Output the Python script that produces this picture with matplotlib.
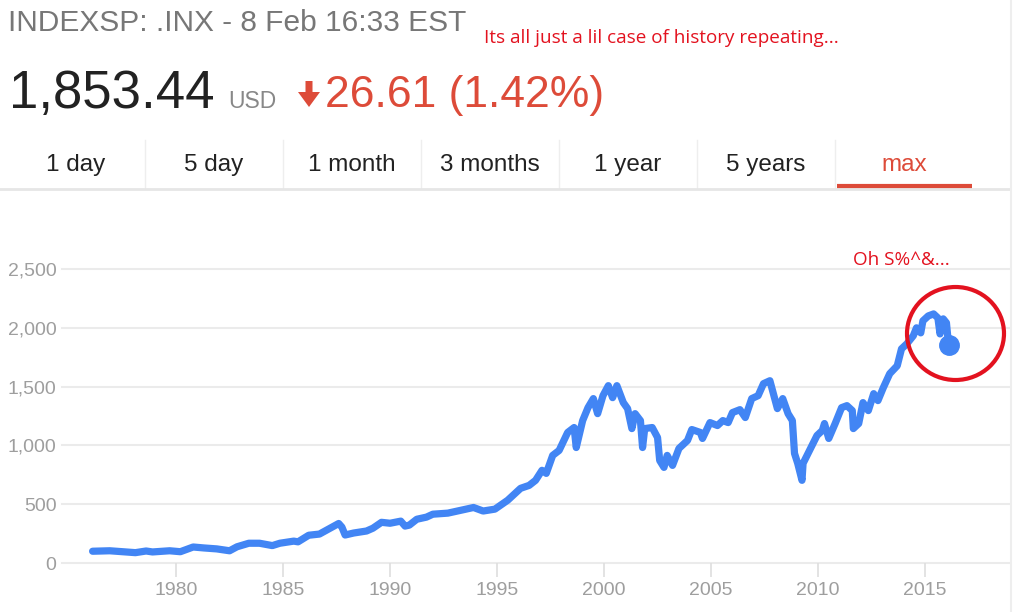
import matplotlib
matplotlib.use("Agg")
import matplotlib.pyplot as plt
from matplotlib.patches import Ellipse, Polygon

# S&P 500 index
years = [1976.1, 1976.9, 1978.1, 1978.6, 1978.9, 1979.7, 1980.2, 1980.8, 1981.3, 1981.9,
         1982.5, 1982.85, 1983.4, 1983.9, 1984.5, 1984.85, 1985.5, 1985.7, 1986.2, 1986.7,
         1987.2, 1987.6, 1987.75, 1987.9, 1988.3, 1988.9, 1989.2, 1989.6, 1990.0, 1990.5,
         1990.7, 1990.9, 1991.25, 1991.7, 1992.0, 1992.7, 1993.1, 1993.9, 1994.35, 1994.9,
         1995.5, 1996.1, 1996.5, 1996.8, 1997.1, 1997.3, 1997.6, 1997.9, 1998.3, 1998.6,
         1998.7, 1999.0, 1999.25, 1999.5, 1999.7, 1999.95, 2000.2, 2000.4, 2000.6, 2000.9,
         2001.1, 2001.3, 2001.45, 2001.7, 2001.8, 2001.9, 2002.25, 2002.5, 2002.6, 2002.8,
         2002.95, 2003.2, 2003.5, 2003.9, 2004.1, 2004.5, 2004.6, 2004.95, 2005.3, 2005.55,
         2005.8, 2006.0, 2006.35, 2006.6, 2006.9, 2007.2, 2007.45, 2007.75, 2007.9, 2008.1,
         2008.35, 2008.6, 2008.8, 2008.9, 2009.05, 2009.25, 2009.3, 2009.6, 2009.95, 2010.2,
         2010.3, 2010.5, 2010.8, 2011.1, 2011.35, 2011.6, 2011.65, 2011.9, 2012.1, 2012.35,
         2012.6, 2012.8, 2013.05, 2013.35, 2013.7, 2013.9, 2014.15, 2014.45, 2014.6, 2014.8,
         2014.9, 2015.15, 2015.4, 2015.6, 2015.7, 2015.85, 2016.0, 2016.1]
values = [100, 104, 88, 102, 94, 104, 96, 136, 128, 120,
          104, 138, 168, 168, 148, 168, 186, 180, 236, 246,
          296, 336, 305, 238, 255, 272, 296, 346, 338, 356,
          314, 322, 372, 390, 415, 424, 440, 472, 442, 458,
          534, 635, 660, 703, 788, 762, 915, 957, 1110, 1152,
          982, 1211, 1321, 1398, 1270, 1423, 1508, 1406, 1508, 1364,
          1313, 1143, 1270, 1211, 982, 1143, 1152, 1067, 872, 813,
          915, 830, 974, 1042, 1135, 1110, 1059, 1194, 1169, 1211,
          1194, 1279, 1304, 1237, 1398, 1423, 1525, 1550, 1448, 1313,
          1398, 1270, 1211, 932, 847, 703, 847, 957, 1084, 1127,
          1186, 1059, 1186, 1321, 1338, 1296, 1143, 1186, 1364, 1296,
          1440, 1381, 1491, 1610, 1677, 1821, 1864, 1932, 2000, 1957,
          2059, 2101, 2118, 2084, 1948, 2076, 2042, 1853]

y_ticks = [0, 500, 1000, 1500, 2000, 2500]
x_ticks = [1980, 1985, 1990, 1995, 2000, 2005, 2010, 2015]
tabs = ["1 day", "5 day", "1 month", "3 months", "1 year", "5 years", "max"]

BLUE = "#4285f4"
GRED = "#dd4b39"
NOTE_RED = "#e3121f"
UI_FONT = "Liberation Sans"

W, H = 1029, 612
fig = plt.figure(figsize=(W / 100, H / 100), dpi=100)
fig.patch.set_facecolor("white")

# chart area
ax = fig.add_axes([62 / W, (H - 563) / H, (1010 - 62) / W, (563 - 269) / H])
ax.set_xlim(1974.67, 2018.97)
ax.set_ylim(0, 2500)
for s in ax.spines.values():
    s.set_visible(False)
for v in y_ticks:
    ax.axhline(v, color="#ebebeb", lw=1.5, zorder=0, clip_on=False)
ax.plot(years, values, color=BLUE, lw=5.2, solid_joinstyle="round",
        solid_capstyle="round", zorder=3)
ax.plot(years[-1], values[-1], "o", color=BLUE, ms=14, zorder=4)

ax.set_yticks(y_ticks)
ax.set_yticklabels([f"{v:,}" for v in y_ticks])
ax.set_xticks(x_ticks)
ax.set_xticklabels([str(x) for x in x_ticks])
ax.tick_params(axis="y", length=0, pad=4, labelsize=14, labelcolor="#9e9e9e")
ax.tick_params(axis="x", length=10, width=1.2, color="#dedede", pad=4,
               labelsize=14, labelcolor="#9e9e9e")
for lab in ax.get_xticklabels() + ax.get_yticklabels():
    lab.set_fontfamily(UI_FONT)

# page overlay in pixel coordinates
ov = fig.add_axes([0, 0, 1, 1], facecolor="none")
ov.set_xlim(0, W)
ov.set_ylim(H, 0)
ov.axis("off")

ov.text(8, 23, "INDEXSP: .INX - 8 Feb 16:33 EST", fontsize=21.5, color="#777777",
        family=UI_FONT, va="center", ha="left")
ov.text(484, 38, "Its all just a lil case of history repeating...", fontsize=13.6,
        color=NOTE_RED, family="Open Sans", va="center", ha="left")

ov.text(9, 94, "1,853.44", fontsize=38, color="#222222", family=UI_FONT,
        va="center", ha="left")
ov.text(228, 102, "USD", fontsize=16.5, color="#888888", family=UI_FONT,
        va="center", ha="left")
# solid down arrow
ov.add_patch(Polygon([(305.5, 81), (312.5, 81), (312.5, 92), (320, 92), (309, 107),
                      (298, 92), (305.5, 92)], closed=True, facecolor=GRED,
                     edgecolor="none"))
ov.text(325, 96, "26.61 (1.42%)", fontsize=32, color=GRED, family=UI_FONT,
        va="center", ha="left")

# tab bar
tab_w = 138
for i, t in enumerate(tabs):
    cx = 76 + i * tab_w
    col = GRED if t == "max" else "#222222"
    ov.text(cx, 171, t, fontsize=17.5, color=col, family=UI_FONT,
            va="baseline", ha="center")
    if i > 0:
        ov.plot([cx - tab_w / 2, cx - tab_w / 2], [140, 189], color="#eeeeee", lw=1)
ov.plot([0, 1010], [189, 189], color="#e6e6e6", lw=2)
ov.plot([837, 972], [186, 186], color=GRED, lw=3, solid_capstyle="butt")
ov.plot([1011, 1011], [0, H], color="#eeeeee", lw=1.5)

# annotation
ov.add_patch(Ellipse((955.5, 333.5), 97, 93, fill=False, edgecolor=NOTE_RED, lw=3, zorder=5))
ov.text(901, 260, "Oh S%^&...", fontsize=13.6, color=NOTE_RED, family="Open Sans",
        va="center", ha="center")

fig.savefig("out.png", dpi=100, facecolor="white")
